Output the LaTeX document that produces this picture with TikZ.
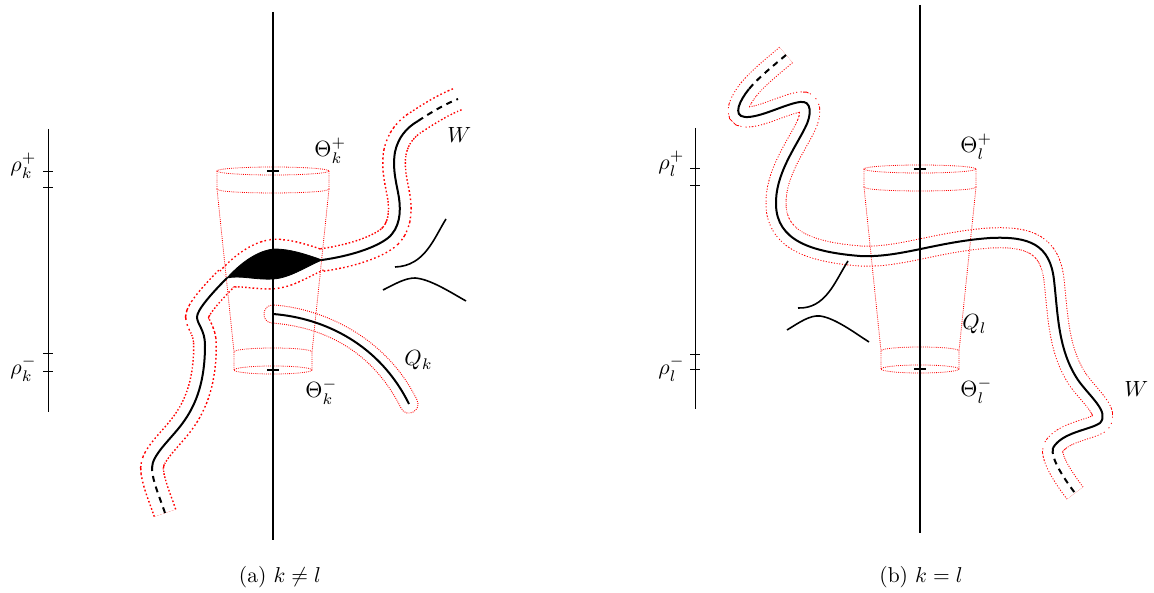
\documentclass[tikz,border=0pt]{standalone}
\begin{document}
\begin{tikzpicture}[x=1pt,y=-1pt,
  lbl/.style={inner sep=0pt, anchor=base west, scale=2.2},
  captext/.style={inner sep=0pt, anchor=base, scale=2.15},
  mainaxis/.style={line width=1.6pt},
  thinaxis/.style={line width=0.9pt},
  thetatick/.style={line width=1.8pt},
  wline/.style={line width=2pt},
  wdash/.style={line width=2pt, dash pattern=on 6pt off 5pt},
  smallcurve/.style={line width=1.6pt},
  cylred/.style={red, line width=0.8pt, dash pattern=on 0.8pt off 1.1pt},
  qtube/.style={red, line width=0.9pt, dash pattern=on 0.9pt off 1.2pt},
  tubeAred/.style={red, line width=24pt, dash pattern=on 1.6pt off 2.2pt},
  tubeAwhite/.style={white, line width=21pt},
  blobred/.style={red, line width=21pt, dash pattern=on 1.6pt off 2.2pt},
  blobwhite/.style={white, line width=18pt},
  tubeBred/.style={red, line width=21pt, dash pattern=on 1pt off 1.6pt},
  tubeBwhite/.style={white, line width=19pt}]

\useasboundingbox (0,0) rectangle (1154,593);

\newcommand\mycyl[3]{%
 \draw[cylred] (#1,#2) ellipse [x radius=56, y radius=4];
 \draw[cylred] ({#1-56},#2) -- ({#1-56},{#2+18}) .. controls ({#1-56},{#2+23.3}) and ({#1+56},{#2+23.3}) .. ({#1+56},{#2+18}) -- ({#1+56},#2);
 \draw[cylred] ({#1-56},{#2+18}) -- ({#1-39},{#3-18});
 \draw[cylred] ({#1+56},{#2+18}) -- ({#1+39},{#3-18});
 \draw[cylred] ({#1-39},#3) -- ({#1-39},{#3-18}) .. controls ({#1-39},{#3-23.3}) and ({#1+39},{#3-23.3}) .. ({#1+39},{#3-18}) -- ({#1+39},#3);
 \draw[cylred] (#1,#3) ellipse [x radius=39, y radius=4];
}

% --- panel (a) paths
\def\WAldash{(165,513) .. controls (160,498) and (152,480) .. (152,468)}
\def\WAlsolid{(152,468) .. controls (152,455) and (170,440) .. (182,424) .. controls (197,404) and (205,380) .. (205,345) .. controls (205,330) and (197,324) .. (197,317) .. controls (197,310) and (212,293) .. (227,278)}
\def\WArsolid{(322,260) .. controls (350,256) and (375,248) .. (388,238) .. controls (400,228) and (401,212) .. (399,198) .. controls (397,185) and (392,170) .. (395,152) .. controls (398,138) and (406,128) .. (418,121)}
\def\WArdash{(418,121) .. controls (430,113) and (445,104) .. (458,99)}
\def\WAleft{(165,513) .. controls (160,498) and (152,480) .. (152,468) .. controls (152,455) and (170,440) .. (182,424) .. controls (197,404) and (205,380) .. (205,345) .. controls (205,330) and (197,324) .. (197,317) .. controls (197,310) and (212,293) .. (227,278)}
\def\WAright{(322,260) .. controls (350,256) and (375,248) .. (388,238) .. controls (400,228) and (401,212) .. (399,198) .. controls (397,185) and (392,170) .. (395,152) .. controls (398,138) and (406,128) .. (418,121) .. controls (430,113) and (445,104) .. (458,99)}
\def\BlobUp{(227,278) .. controls (245,258) and (262,250) .. (274,249) .. controls (290,249) and (305,254) .. (322,260)}
\def\BlobLow{(227,278) .. controls (240,275) and (255,280) .. (273,279) .. controls (290,278) and (305,267) .. (322,260)}
% --- panel (b) paths
\def\WBtopdash{(786,55) .. controls (773,66) and (758,78) .. (749,89)}
\def\WBsolid{(749,89) .. controls (740,100) and (732,116) .. (745,117) .. controls (760,118) and (785,104) .. (800,102) .. controls (812,100) and (812,115) .. (805,128) .. controls (795,148) and (775,175) .. (776,205) .. controls (777,240) and (810,252) .. (860,256) .. controls (900,258) and (935,242) .. (990,238) .. controls (1030,236) and (1050,245) .. (1054,280) .. controls (1058,315) and (1058,350) .. (1078,380) .. controls (1090,397) and (1110,412) .. (1100,423) .. controls (1090,430) and (1062,432) .. (1053,448)}
\def\WBbotdash{(1053,448) .. controls (1050,458) and (1065,480) .. (1075,493)}
\def\WB{(786,55) .. controls (773,66) and (758,78) .. (749,89) .. controls (740,100) and (732,116) .. (745,117) .. controls (760,118) and (785,104) .. (800,102) .. controls (812,100) and (812,115) .. (805,128) .. controls (795,148) and (775,175) .. (776,205) .. controls (777,240) and (810,252) .. (860,256) .. controls (900,258) and (935,242) .. (990,238) .. controls (1030,236) and (1050,245) .. (1054,280) .. controls (1058,315) and (1058,350) .. (1078,380) .. controls (1090,397) and (1110,412) .. (1100,423) .. controls (1090,430) and (1062,432) .. (1053,448) .. controls (1050,458) and (1065,480) .. (1075,493)}

% ================= panel (a) =================
\draw[tubeAred] \WAleft;
\draw[tubeAred] \WAright;
\draw[blobred] \BlobUp;
\draw[blobred] \BlobLow;
\draw[tubeAwhite] \WAleft;
\draw[tubeAwhite] \WAright;
\draw[blobwhite] \BlobUp;
\draw[blobwhite] \BlobLow;

\draw[qtube] (274,305) .. controls (327,309) and (388,340) .. (417,400)
  .. controls (422.3,410.8) and (406.3,418.8) .. (401,408)
  .. controls (372,350) and (323,327) .. (272,323)
  .. controls (260.3,322.1) and (261.7,304.1) .. (274,305) -- cycle;

\mycyl{273}{171}{370}

\draw[mainaxis] (273,12) -- (273,540);
\draw[thetatick] (267,171) -- (279,171);
\draw[thetatick] (267,370) -- (279,370);
\draw[thinaxis] (48,129) -- (48,412);
\foreach \yy in {171,187,353,371} \draw[thinaxis] (43,\yy) -- (53,\yy);

\fill (227,278) .. controls (245,258) and (262,250) .. (274,249) .. controls (290,249) and (305,254) .. (322,260)
  .. controls (305,267) and (290,278) .. (273,279) .. controls (255,280) and (240,275) .. (227,278) -- cycle;
\draw[line width=0.8pt] \BlobUp;
\draw[line width=0.8pt] \BlobLow;
\draw[wdash] \WAldash;
\draw[wline] \WAlsolid;
\draw[wline] \WArsolid;
\draw[wdash] \WArdash;

\draw[wline] (273,314) .. controls (325,318) and (380,345) .. (409,404);

\draw[smallcurve] (446,219) .. controls (434,238) and (425,266) .. (395,267);
\draw[smallcurve] (383,290) .. controls (395,284) and (405,278) .. (415,278) .. controls (430,279) and (450,292) .. (466,301);

\node[lbl] (rkp) at (10,172) {$\rho_k^+$};
\node[lbl] (rkm) at (10,375) {$\rho_k^-$};
\node[lbl] (tkp) at (314,157) {$\Theta_k^+$};
\node[lbl] (tkm) at (305,398) {$\Theta_k^-$};
\node[lbl] (qk) at (404,366) {$Q_k$};
\node[lbl] (wa) at (447,143) {$W$};
\node[captext] (capa) at (280,582) {(a) $k\neq l$};

% ================= panel (b) =================
\draw[tubeBred] \WB;
\draw[tubeBwhite] \WB;

\mycyl{920}{169}{369}

\draw[mainaxis] (920,5) -- (920,533);
\draw[thetatick] (914,169) -- (926,169);
\draw[thetatick] (914,369) -- (926,369);
\draw[thinaxis] (695,128) -- (695,409);
\foreach \yy in {168,185,354,369} \draw[thinaxis] (690,\yy) -- (700,\yy);

\draw[wdash] \WBtopdash;
\draw[wline] \WBsolid;
\draw[wdash] \WBbotdash;

\draw[smallcurve] (848,261) .. controls (835,281) and (826,309) .. (798,308);
\draw[smallcurve] (787,330) .. controls (800,322) and (810,315) .. (820,316) .. controls (835,318) and (855,333) .. (869,342);

\node[lbl] (rlp) at (658,170) {$\rho_l^+$};
\node[lbl] (rlm) at (658,375) {$\rho_l^-$};
\node[lbl] (tlp) at (960,153) {$\Theta_l^+$};
\node[lbl] (tlm) at (960,397) {$\Theta_l^-$};
\node[lbl] (ql) at (962,330) {$Q_l$};
\node[lbl] (wb) at (1124,397) {$W$};
\node[captext] (capb) at (921,582) {(b) $k=l$};
\end{tikzpicture}
\end{document}
